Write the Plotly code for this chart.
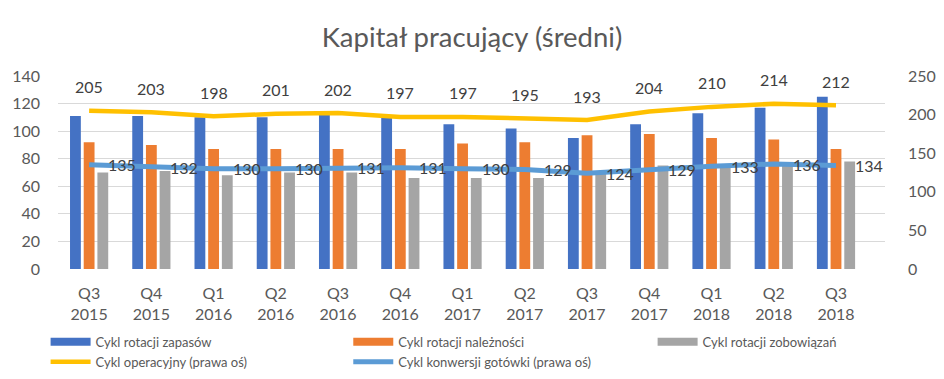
import plotly.graph_objects as go

quarters = ["Q3<br>2015", "Q4<br>2015", "Q1<br>2016", "Q2<br>2016", "Q3<br>2016", "Q4<br>2016",
            "Q1<br>2017", "Q2<br>2017", "Q3<br>2017", "Q4<br>2017", "Q1<br>2018", "Q2<br>2018", "Q3<br>2018"]
zapasy = [111, 111, 110, 110, 113, 110, 105, 102, 95, 105, 113, 117, 125]
naleznosci = [92, 90, 87, 87, 87, 87, 91, 92, 97, 98, 95, 94, 87]
zobowiazania = [70, 71, 68, 70, 70, 66, 66, 66, 69, 75, 75, 76, 78]
operacyjny = [205, 203, 198, 201, 202, 197, 197, 195, 193, 204, 210, 214, 212]
konwersja = [135, 132, 130, 130, 131, 131, 130, 129, 124, 129, 133, 136, 134]

names = ["Cykl rotacji zapasów", "Cykl rotacji należności", "Cykl rotacji zobowiązań",
         "Cykl operacyjny (prawa oś)", "Cykl konwersji gotówki (prawa oś)"]
C_BLUE, C_ORANGE, C_GRAY, C_YELLOW, C_LBLUE = "#4472C4", "#ED7D31", "#A5A5A5", "#FFC000", "#5B9BD5"
FONT = "Lato"
TXT = "#595959"

fig = go.Figure()
for vals, name, col in [(zapasy, names[0], C_BLUE), (naleznosci, names[1], C_ORANGE),
                        (zobowiazania, names[2], C_GRAY)]:
    fig.add_trace(go.Bar(x=quarters, y=vals, name=name, marker_color=col,
                         marker_line_width=0, showlegend=False, yaxis="y"))

# legend proxies for bars (wide rectangle symbol), one legend per column
for name, col, lg in [(names[0], C_BLUE, "legend"), (names[1], C_ORANGE, "legend2"),
                      (names[2], C_GRAY, "legend3")]:
    fig.add_trace(go.Scatter(x=[None], y=[None], mode="lines", name=name,
                             line=dict(color=col, width=8), yaxis="y", legend=lg))

fig.add_trace(go.Scatter(x=quarters, y=operacyjny, name=names[3], mode="lines",
                         line=dict(color=C_YELLOW, width=4.5), yaxis="y2", legend="legend"))
fig.add_trace(go.Scatter(x=quarters, y=konwersja, name=names[4], mode="lines",
                         line=dict(color=C_LBLUE, width=5), yaxis="y2", legend="legend2"))

ann = []
for q, v in zip(quarters, operacyjny):
    ann.append(dict(x=q, y=v, xref="x", yref="y2", text=str(v), showarrow=False,
                    yshift=24, font=dict(family=FONT, size=16, color="#404040")))
for q, v in zip(quarters, konwersja):
    ann.append(dict(x=q, y=v, xref="x", yref="y2", text=str(v), showarrow=False,
                    xanchor="left", xshift=17, yshift=0,
                    font=dict(family=FONT, size=16, color="#404040")))

leg_common = dict(orientation="v", xanchor="left", y=-0.30, yanchor="top",
                  traceorder="normal", font=dict(family=FONT, size=13, color=TXT),
                  tracegroupgap=0, bgcolor="rgba(0,0,0,0)", itemwidth=40)

fig.update_layout(
    width=944, height=379,
    margin=dict(l=58, r=59, t=76, b=110, autoexpand=False),
    paper_bgcolor="white", plot_bgcolor="white",
    font=dict(family=FONT, size=16, color=TXT),
    title=dict(text="Kapitał pracujący (średni)", x=0.5, xanchor="center",
               y=1 - 37 / 379, yanchor="middle", yref="container",
               font=dict(family=FONT, size=27.5, color=TXT)),
    barmode="group", bargap=0.34, bargroupgap=0.21,
    xaxis=dict(showgrid=False, showline=False, ticks="", tickfont=dict(size=16, color=TXT),
               ticklabelstandoff=13),
    yaxis=dict(range=[0, 140], dtick=20, showgrid=True, gridcolor="#D9D9D9", gridwidth=1,
               zeroline=False, showline=False, ticks="", tickfont=dict(size=16, color=TXT),
               ticklabelstandoff=17),
    yaxis2=dict(range=[0, 250], dtick=50, overlaying="y", side="right", showgrid=False,
                zeroline=False, showline=False, ticks="", tickfont=dict(size=16, color=TXT),
                ticklabelstandoff=22),
    legend=dict(x=-0.015, **leg_common),
    legend2=dict(x=0.351, **leg_common),
    legend3=dict(x=0.719, **leg_common),
    annotations=ann,
)

fig.write_html("out.html", config={"displayModeBar": False},
               post_script="document.body.style.margin='0';")
